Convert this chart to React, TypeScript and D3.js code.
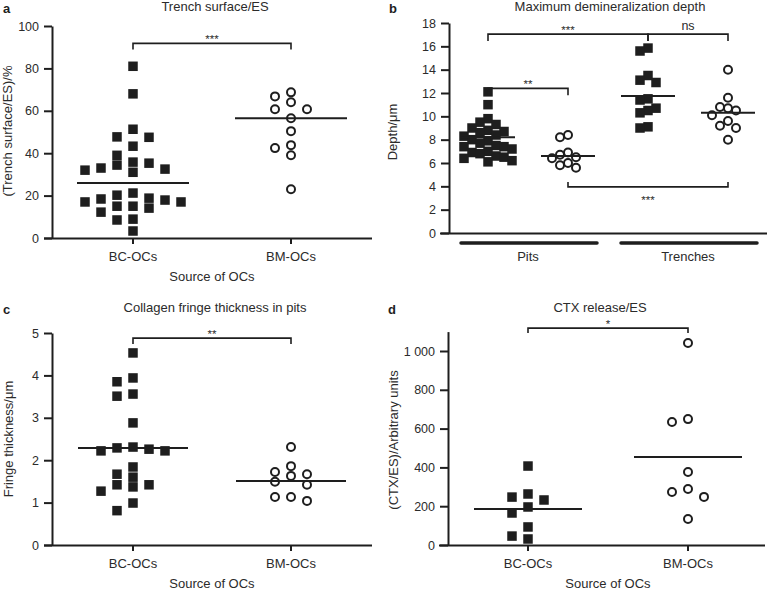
import React, { useEffect, useRef } from 'react';
import * as d3 from 'd3';

// categories
const sourceCats = ["BC-OCs", "BM-OCs"];
const depthGroups = ["Pits BC-OCs", "Pits BM-OCs", "Trenches BC-OCs", "Trenches BM-OCs"];

// a: trench surface / ES (%)
const trenchBC = [81, 68, 51.3, 47.7, 47.5, 43.3, 39, 35.8, 35.3, 34.4, 33, 32.5, 32, 31, 21.2, 20.2, 18.8, 18.4, 17.9, 17, 17, 15, 15, 14.1, 12.2, 8.9, 8.5, 3.3];
const trenchBM = [68.7, 66.8, 64, 60.7, 60.7, 56.5, 50.4, 43.8, 42.4, 39, 23];
const trenchCenter = [25.9, 56.5];

// b: maximum demineralization depth (um)
const pitsBC = [12.1, 11.0, 9.8, 9.5, 9.3, 9.0, 8.8, 8.7, 8.6, 8.4, 8.3, 8.0, 7.9, 7.7, 7.5, 7.4, 7.4, 7.2, 7.0, 6.9, 6.8, 6.6, 6.5, 6.4, 6.2, 6.1];
const pitsBM = [8.4, 8.2, 6.9, 6.7, 6.5, 6.4, 6.0, 5.8, 5.6];
const trenchesBC = [15.85, 15.6, 13.5, 13.1, 12.9, 11.5, 11.4, 10.7, 10.5, 10.3, 9.1, 9.0];
const trenchesBM = [14.0, 11.6, 10.8, 10.7, 10.5, 10.1, 9.6, 9.2, 9.0, 8.0];
const depthCenter = [8.2, 6.6, 11.75, 10.3];

// c: collagen fringe thickness (um)
const fringeBC = [4.53, 3.94, 3.85, 3.56, 3.51, 2.88, 2.31, 2.29, 2.26, 2.22, 2.22, 1.84, 1.67, 1.6, 1.42, 1.42, 1.37, 1.27, 0.99, 0.81];
const fringeBM = [2.31, 1.86, 1.72, 1.67, 1.63, 1.49, 1.42, 1.13, 1.13, 1.04];
const fringeCenter = [2.29, 1.51];

// d: CTX release / ES
const ctxBC = [407, 263, 247, 232, 196, 165, 93, 46, 31];
const ctxBM = [1041, 649, 634, 376, 289, 273, 248, 134];
const ctxCenter = [186, 454];

// tick values
const ticksA = [0, 20, 40, 60, 80, 100];
const ticksB = [0, 2, 4, 6, 8, 10, 12, 14, 16, 18];
const ticksC = [0, 1, 2, 3, 4, 5];
const ticksD = [0, 200, 400, 600, 800, 1000];

const INK = "#1e1e1e";
const TXT = "#2b2b2b";
const FONT = "'Liberation Sans', Arial, Helvetica, sans-serif";

const spaceFmt = d3.formatLocale({ decimal: ".", thousands: " ", grouping: [3], currency: ["", ""] }).format(",");

// simple column beeswarm: each point goes to the nearest free column
function swarm(values, y, step, minDy) {
  const order = values.map((v, i) => i).sort((a, b) => values[b] - values[a]);
  const cols = new Map();
  const out = new Array(values.length);
  order.forEach(i => {
    const py = y(values[i]);
    for (let k = 0; k < 30; k++) {
      const slot = k === 0 ? 0 : (k % 2 ? -Math.ceil(k / 2) : k / 2);
      const used = cols.get(slot) || [];
      if (used.every(u => Math.abs(u - py) >= minDy)) {
        used.push(py);
        cols.set(slot, used);
        out[i] = { dx: slot * step, y: py };
        break;
      }
    }
  });
  return out;
}

function YAxis({ scale, x, ticks, fmt }) {
  const ref = useRef(null);
  useEffect(() => {
    const g = d3.select(ref.current);
    g.call(d3.axisLeft(scale).tickValues(ticks).tickSize(8).tickSizeOuter(0).tickPadding(5).tickFormat(fmt));
    g.attr('font-family', null).attr('font-size', null);
    g.select('.domain').attr('stroke', INK).attr('stroke-width', 2);
    g.selectAll('.tick line').attr('stroke', INK).attr('stroke-width', 2);
    g.selectAll('.tick text').attr('fill', TXT).style('font-size', '12.5px').style('font-family', FONT);
  }, []);
  return <g ref={ref} transform={`translate(${x},0)`} />;
}

function Panel(p) {
  const { y, x } = p;
  const y0 = y(0);
  return (
    <g>
      <text x={p.letterX} y={p.top + 13} fontWeight="bold" fontSize={13} fill={INK}>{p.letter}</text>
      <text x={p.titleX} y={p.top + 11} textAnchor="middle" fontSize={13} fill={TXT}>{p.title}</text>
      <text transform={`translate(${p.yLabelX},${p.yLabelY}) rotate(-90)`} textAnchor="middle" fontSize={13} fill={TXT}>{p.yLabel}</text>

      <YAxis scale={y} x={p.axisX} ticks={p.ticks} fmt={p.fmt} />
      <line x1={p.xLeft} x2={p.xRight} y1={y0 + 0.5} y2={y0 + 0.5} stroke={INK} strokeWidth={2} />

      {p.catLabels && p.cats.map(c => (
        <g key={c}>
          <line x1={x(c)} x2={x(c)} y1={y0} y2={y0 + 6} stroke={INK} strokeWidth={2} />
          <text x={x(c)} y={y0 + 22.5} textAnchor="middle" fontSize={13} fill={TXT}>{c}</text>
        </g>
      ))}
      {p.xTitle && (
        <text x={(x(p.cats[0]) + x(p.cats[p.cats.length - 1])) / 2} y={y0 + 43} textAnchor="middle" fontSize={13} fill={TXT}>{p.xTitle}</text>
      )}
      {p.bars && p.bars.map(b => (
        <g key={b.label}>
          <line x1={x(p.cats[b.from]) - 27} x2={x(p.cats[b.to]) + 29} y1={y0 + 10} y2={y0 + 10} stroke={INK} strokeWidth={3.5} strokeLinecap="round" />
          <text x={(x(p.cats[b.from]) + x(p.cats[b.to])) / 2} y={y0 + 28} textAnchor="middle" fontSize={13} fill={TXT}>{b.label}</text>
        </g>
      ))}

      {p.groups.map((vals, gi) => {
        const cx = x(p.cats[gi]);
        const pts = swarm(vals, y, p.step, p.minDy);
        return (
          <g key={gi}>
            {pts.map((pt, i) => p.shapes[gi] === 'square'
              ? <rect key={i} x={cx + pt.dx - 4.75} y={pt.y - 4.75} width={9.5} height={9.5} fill={INK} />
              : <circle key={i} cx={cx + pt.dx} cy={pt.y} r={4} fill="#fff" stroke={INK} strokeWidth={2} />)}
            <line x1={cx - p.lineHalf} x2={cx + p.lineHalf} y1={y(p.centers[gi])} y2={y(p.centers[gi])} stroke={INK} strokeWidth={2} />
          </g>
        );
      })}

      {p.brackets.map((b, i) => {
        const x1 = x(p.cats[b.from]);
        const x2 = x(p.cats[b.to]);
        const by = y(b.at);
        const t = b.below ? -b.tick : b.tick;
        return (
          <g key={i}>
            <path d={`M${x1},${by + t}V${by}H${x2}V${by + t}`} fill="none" stroke={INK} strokeWidth={1.6} />
            <text x={(x1 + x2) / 2} y={b.below ? by + 17 : by - (b.label === 'ns' ? 4 : 0)} textAnchor="middle" fontSize={b.label === 'ns' ? 12.5 : 11.5} fill={TXT}>{b.label}</text>
          </g>
        );
      })}
    </g>
  );
}

export default function App() {
  const yA = d3.scaleLinear().domain([0, 100]).range([238, 26]);
  const xA = d3.scalePoint().domain(sourceCats).range([133, 291]);
  const yB = d3.scaleLinear().domain([0, 18]).range([233, 23]);
  const xB = d3.scalePoint().domain(depthGroups).range([488, 728]);
  const yC = d3.scaleLinear().domain([0, 5]).range([545, 333]);
  const xC = d3.scalePoint().domain(sourceCats).range([133, 291]);
  const yD = d3.scaleLinear().domain([0, 1100]).range([545, 331.6]);
  const xD = d3.scalePoint().domain(sourceCats).range([528, 688]);
  const num = d => String(d);

  return (
    <svg width={770} height={590} style={{ position: 'absolute', left: 0, top: 0, background: '#fff' }} fontFamily={FONT}>
      <Panel letter="a" letterX={3} top={0} title="Trench surface/ES" titleX={215}
        yLabel="(Trench surface/ES)/%" yLabelX={12} yLabelY={131}
        y={yA} x={xA} ticks={ticksA} fmt={num} axisX={52} xLeft={44} xRight={372}
        cats={sourceCats} catLabels xTitle="Source of OCs"
        groups={[trenchBC, trenchBM]} shapes={['square', 'circle']} centers={trenchCenter}
        lineHalf={56} step={16} minDy={9.5}
        brackets={[{ from: 0, to: 1, at: 91.8, label: '***', tick: 6 }]} />

      <Panel letter="b" letterX={389} top={0} title="Maximum demineralization depth" titleX={610}
        yLabel="Depth/μm" yLabelX={397} yLabelY={132}
        y={yB} x={xB} ticks={ticksB} fmt={num} axisX={449} xLeft={440} xRight={767}
        cats={depthGroups}
        bars={[{ label: 'Pits', from: 0, to: 1 }, { label: 'Trenches', from: 2, to: 3 }]}
        groups={[pitsBC, pitsBM, trenchesBC, trenchesBM]} shapes={['square', 'circle', 'square', 'circle']} centers={depthCenter}
        lineHalf={27} step={8} minDy={10}
        brackets={[
          { from: 0, to: 2, at: 17.05, label: '***', tick: 7 },
          { from: 2, to: 3, at: 17.05, label: 'ns', tick: 7 },
          { from: 0, to: 1, at: 12.4, label: '**', tick: 7 },
          { from: 1, to: 3, at: 3.95, label: '***', tick: 5, below: true },
        ]} />

      <Panel letter="c" letterX={3} top={301} title="Collagen fringe thickness in pits" titleX={215}
        yLabel="Fringe thickness/μm" yLabelX={13} yLabelY={439}
        y={yC} x={xC} ticks={ticksC} fmt={num} axisX={52} xLeft={44} xRight={372}
        cats={sourceCats} catLabels xTitle="Source of OCs"
        groups={[fringeBC, fringeBM]} shapes={['square', 'circle']} centers={fringeCenter}
        lineHalf={55} step={16} minDy={9.5}
        brackets={[{ from: 0, to: 1, at: 4.88, label: '**', tick: 6 }]} />

      <Panel letter="d" letterX={388} top={301} title="CTX release/ES" titleX={600}
        yLabel="(CTX/ES)/Arbitrary units" yLabelX={398} yLabelY={440}
        y={yD} x={xD} ticks={ticksD} fmt={spaceFmt} axisX={448} xLeft={439} xRight={765}
        cats={sourceCats} catLabels xTitle="Source of OCs"
        groups={[ctxBC, ctxBM]} shapes={['square', 'circle']} centers={ctxCenter}
        lineHalf={54} step={16} minDy={9.5}
        brackets={[{ from: 0, to: 1, at: 1118, label: '*', tick: 5 }]} />
    </svg>
  );
}
